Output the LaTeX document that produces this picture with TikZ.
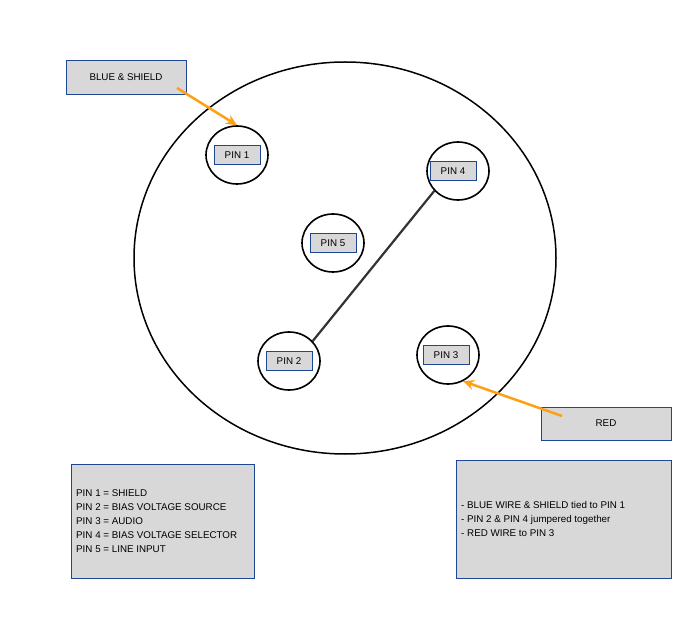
\documentclass[tikz,border=0pt]{standalone}
\usepackage{fontspec}
\setmainfont{Liberation Sans}
\usetikzlibrary{arrows.meta,shapes.geometric}
\definecolor{boxBlue}{RGB}{30,70,150}
\definecolor{boxGray}{RGB}{216,216,216}
\definecolor{wireOrange}{RGB}{255,160,20}
\begin{document}
\begin{tikzpicture}[x=1pt,y=-1pt,
	every node/.style={font=\fontsize{9.8}{14}\selectfont},
	pinlabel/.style={draw=boxBlue,fill=boxGray,minimum width=46pt,minimum height=19pt,inner sep=1pt},
	pinring/.style={draw,line width=1.6pt,ellipse,minimum width=62pt,minimum height=58pt},
	note/.style={draw=boxBlue,fill=boxGray,rectangle},
	feed/.style={draw=wireOrange,line width=2.5pt,-{Stealth[length=11pt,width=10pt]}},
	]
	\useasboundingbox (0,0) rectangle (691,628);

	% connector body
	\draw[line width=1.5pt] (345,258) ellipse [x radius=211,y radius=196];

	% pins
	\node[pinring] (ring1) at (237,155) {};
	\node[pinring] (ring4) at (458,171) {};
	\node[pinring] (ring5) at (333,243) {};
	\node[pinring] (ring2) at (289,361) {};
	\node[pinring] (ring3) at (448,355) {};
	\node[pinlabel] (pin1) at (237,155) {PIN 1};
	\node[pinlabel] (pin4) at (453,171) {PIN 4};
	\node[pinlabel] (pin5) at (333,243) {PIN 5};
	\node[pinlabel] (pin2) at (289,361) {PIN 2};
	\node[pinlabel] (pin3) at (446,355) {PIN 3};

	% jumper
	\draw[line width=2.2pt,draw=black!80] (ring2.40) -- (ring4.220);

	% wires
	\node[note,minimum width=120pt,minimum height=34pt] (blue) at (126,77) {BLUE \& SHIELD};
	\node[note,minimum width=130pt,minimum height=33pt] (red) at (606,423.5) {RED};
	\coordinate (blueEnd) at (177,88);
	\coordinate (redEnd) at (562,416);
	\draw[feed] (blueEnd) -- (ring1.north);
	\draw[feed] (redEnd) -- (ring3.-60);

	% legends
	\node[note,minimum width=183pt,minimum height=114pt] (legend) at (162.5,521) {};
	\node[anchor=north west,align=left,inner sep=0pt] at (76,489) {PIN 1 = SHIELD\\PIN 2 = BIAS VOLTAGE SOURCE\\PIN 3 = AUDIO\\PIN 4 = BIAS VOLTAGE SELECTOR\\PIN 5 = LINE INPUT};
	\node[note,minimum width=215pt,minimum height=118pt] (notes) at (563.5,519) {};
	\node[anchor=north west,align=left,inner sep=0pt] at (461,501) {- BLUE WIRE \& SHIELD tied to PIN 1\\- PIN 2 \& PIN 4 jumpered together\\- RED WIRE to PIN 3};
\end{tikzpicture}
\end{document}
